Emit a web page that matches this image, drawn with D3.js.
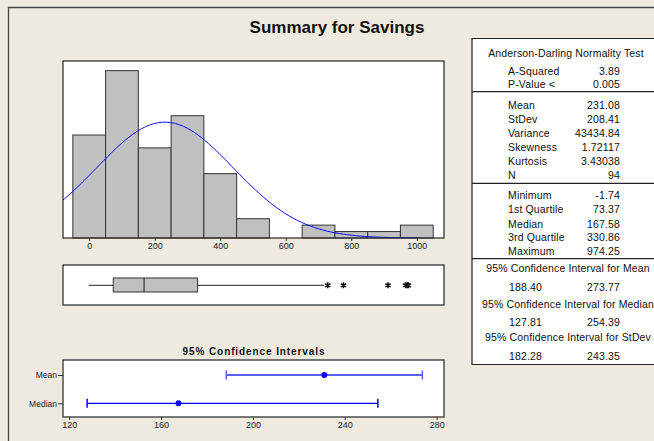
<!DOCTYPE html>
<html><head><meta charset="utf-8">
<script src="https://cdn.jsdelivr.net/npm/d3@7"></script>
<style>
html,body{margin:0;padding:0;background:#EEEAE0;}
svg{display:block;font-family:"Liberation Sans",Arial,sans-serif;}
</style></head>
<body>
<script>
// ---------- data ----------
const binCenters = [0, 100, 200, 300, 400, 500, 600, 700, 800, 900, 1000];
const binCounts  = [16, 26, 14, 19, 10, 3, 0, 2, 1, 1, 2];
const histTicks  = [0, 200, 400, 600, 800, 1000];
const sampleMean = 231.08;
const sampleSd   = 208.41;
const sampleN    = 94;
const binWidth   = 100;

const boxValues  = [-1.74, 73.37, 167.58, 330.86, 717]; // low whisker, Q1, median, Q3, high whisker
const outliers   = [728, 776, 912, 966, 971, 974.25];

const ciLabels   = ["Mean", "Median"];
const ciCenters  = [231.08, 167.58];
const ciLows     = [188.40, 127.81];
const ciHighs    = [273.77, 254.39];
const ciTicks    = [120, 160, 200, 240, 280];

const adLabels    = ["A-Squared", "P-Value <"];
const adValues    = ["3.89", "0.005"];
const descLabels  = ["Mean", "StDev", "Variance", "Skewness", "Kurtosis", "N"];
const descValues  = ["231.08", "208.41", "43434.84", "1.72117", "3.43038", "94"];
const quantLabels = ["Minimum", "1st Quartile", "Median", "3rd Quartile", "Maximum"];
const quantValues = ["-1.74", "73.37", "167.58", "330.86", "974.25"];
const ciTitles    = ["95% Confidence Interval for Mean", "95% Confidence Interval for Median", "95% Confidence Interval for StDev"];
const ciLowStr    = ["188.40", "127.81", "182.28"];
const ciHighStr   = ["273.77", "254.39", "243.35"];

// ---------- drawing ----------
const W = 654, H = 441;
const svg = d3.select("body").append("svg").attr("width", W).attr("height", H);
svg.append("rect").attr("width", W).attr("height", H).attr("fill", "#EEEAE0");
svg.append("path").attr("d", `M8.5,${H+5} V7.5 H${W+5}`).attr("fill", "none").attr("stroke", "#444").attr("stroke-width", 1.3);

svg.append("text").attr("x", 337).attr("y", 33).attr("text-anchor", "middle")
  .attr("font-size", 17).attr("font-weight", "bold").attr("fill", "#111").text("Summary for Savings");

const L = 63, R = 444;
const tickFont = "Liberation Sans, Arial, sans-serif";
// ---- histogram ----
const hTop = 61, hBot = 238;
const x = d3.scaleLinear().domain([-80, 1083]).range([L, R]);
const y = d3.scaleLinear().domain([0, 27.5]).range([hBot, hTop]);
svg.append("rect").attr("x", L).attr("y", hTop).attr("width", R - L).attr("height", hBot - hTop).attr("fill", "#fff");
svg.append("g").selectAll("rect").data(binCenters).join("rect")
  .attr("x", d => x(d - binWidth / 2)).attr("width", d => x(d + binWidth / 2) - x(d - binWidth / 2))
  .attr("y", (d, i) => y(binCounts[i])).attr("height", (d, i) => hBot - y(binCounts[i]))
  .attr("fill", "#C0C0C0").attr("stroke", "#333").attr("stroke-width", 1);
const curvePts = d3.range(-80, 1005, 4).map(v => [v, sampleN * binWidth * Math.exp(-0.5 * ((v - sampleMean) / sampleSd) ** 2) / (sampleSd * Math.sqrt(2 * Math.PI))]);
svg.append("path").datum(curvePts)
  .attr("d", d3.line().x(d => x(d[0])).y(d => y(d[1])))
  .attr("fill", "none").attr("stroke", "#0000FF").attr("stroke-width", 1);
svg.append("rect").attr("x", L).attr("y", hTop).attr("width", R - L).attr("height", hBot - hTop)
  .attr("fill", "none").attr("stroke", "#333").attr("stroke-width", 1.3);
const hx = svg.append("g").attr("transform", `translate(0,${hBot})`)
  .call(d3.axisBottom(x).tickValues(histTicks).tickSize(3).tickPadding(2).tickFormat(d3.format("d")));
hx.select(".domain").remove();
hx.selectAll("text").attr("font-size", 9).attr("fill", "#222").attr("font-family", tickFont);
hx.selectAll("line").attr("stroke", "#333");

// ---- box plot ----
const bTop = 265, bBot = 305, bMid = 285.3;
svg.append("rect").attr("x", L).attr("y", bTop).attr("width", R - L).attr("height", bBot - bTop)
  .attr("fill", "#fff").attr("stroke", "#333").attr("stroke-width", 1.3);
const g = svg.append("g");
g.append("line").attr("x1", x(boxValues[0])).attr("x2", x(boxValues[1])).attr("y1", bMid).attr("y2", bMid).attr("stroke", "#222");
g.append("line").attr("x1", x(boxValues[3])).attr("x2", x(boxValues[4])).attr("y1", bMid).attr("y2", bMid).attr("stroke", "#222");
g.append("rect").attr("x", x(boxValues[1])).attr("width", x(boxValues[3]) - x(boxValues[1]))
  .attr("y", 278).attr("height", 14).attr("fill", "#C0C0C0").attr("stroke", "#333").attr("stroke-width", 1);
g.append("line").attr("x1", x(boxValues[2])).attr("x2", x(boxValues[2])).attr("y1", 278).attr("y2", 292).attr("stroke", "#333").attr("stroke-width", 1.2);
g.selectAll("path.out").data(outliers).join("path").attr("class", "out")
  .attr("transform", d => `translate(${x(d)},${bMid})`)
  .attr("d", d3.symbol().type(d3.symbolAsterisk).size(26))
  .attr("fill", "none").attr("stroke", "#111").attr("stroke-width", 1.6);

// ---- CI panel ----
const cTop = 360, cBot = 417;
const cx = d3.scaleLinear().domain([117.3, 283.2]).range([L, R]);
const cy = d3.scalePoint().domain(ciLabels).range([375, 403.3]);
const ciColors = ["#5C5CFF", "#0000FF"], ciWidths = [2, 1.3];
svg.append("text").attr("x", 254).attr("y", 354.5).attr("text-anchor", "middle")
  .attr("font-size", 10).attr("font-weight", "bold").attr("letter-spacing", 0.9).attr("fill", "#111")
  .text("95% Confidence Intervals");
svg.append("rect").attr("x", L).attr("y", cTop).attr("width", R - L).attr("height", cBot - cTop)
  .attr("fill", "#fff").attr("stroke", "#333").attr("stroke-width", 1.3);
const cg = svg.append("g");
ciLabels.forEach((lab, i) => {
  const yy = cy(lab);
  cg.append("line").attr("x1", cx(ciLows[i])).attr("x2", cx(ciHighs[i])).attr("y1", yy).attr("y2", yy)
    .attr("stroke", ciColors[i]).attr("stroke-width", ciWidths[i]);
  [ciLows[i], ciHighs[i]].forEach(v => cg.append("line").attr("x1", cx(v)).attr("x2", cx(v))
    .attr("y1", yy - 4.5).attr("y2", yy + 4.5).attr("stroke", ciColors[i]).attr("stroke-width", 1.5));
  cg.append("circle").attr("cx", cx(ciCenters[i])).attr("cy", yy).attr("r", 3).attr("fill", "#0000FF");
});
const cyAx = svg.append("g").attr("transform", `translate(${L},0)`)
  .call(d3.axisLeft(cy).tickSize(5).tickPadding(1));
cyAx.select(".domain").remove();
cyAx.selectAll("text").attr("font-size", 8.5).attr("fill", "#222").attr("font-family", tickFont);
cyAx.selectAll("line").attr("stroke", "#333");
const cxAx = svg.append("g").attr("transform", `translate(0,${cBot})`)
  .call(d3.axisBottom(cx).tickValues(ciTicks).tickSize(3).tickPadding(2));
cxAx.select(".domain").remove();
cxAx.selectAll("text").attr("font-size", 9).attr("fill", "#222").attr("font-family", tickFont);
cxAx.selectAll("line").attr("stroke", "#333");

// ---- stats table ----
const tL = 472, tTop = 38.5, tBot = 364.5;
svg.append("path").attr("d", `M${W + 5},${tTop} H${tL} V${tBot} H${W + 5}`)
  .attr("fill", "#fff").attr("stroke", "#222").attr("stroke-width", 1.2);
[91.7, 183.3, 258.7].forEach(yy => svg.append("line").attr("x1", tL).attr("x2", W).attr("y1", yy).attr("y2", yy)
  .attr("stroke", "#222").attr("stroke-width", 1.2));
const tg = svg.append("g").attr("font-size", 10.5).attr("letter-spacing", 0.15).attr("fill", "#111");
const txt = (xx, yy, s, anchor) => tg.append("text").attr("x", xx).attr("y", yy + 3.7).attr("text-anchor", anchor).text(s);
txt(566, 53.3, "Anderson-Darling Normality Test", "middle");
const adY = [71, 84.3];
adLabels.forEach((l, i) => { txt(508, adY[i], l, "start"); txt(620, adY[i], adValues[i], "end"); });
const descY = [105.7, 119.2, 133.1, 147.1, 161.1, 175];
descLabels.forEach((l, i) => { txt(508, descY[i], l, "start"); txt(620, descY[i], descValues[i], "end"); });
const quantY = [195.7, 209.6, 223.8, 237.6, 250.8];
quantLabels.forEach((l, i) => { txt(508, quantY[i], l, "start"); txt(620, quantY[i], quantValues[i], "end"); });
const ciTitleY = [268.7, 304, 337.7], ciValY = [287.7, 322.3, 356.3];
ciTitles.forEach((t, i) => {
  txt(568, ciTitleY[i], t, "middle");
  txt(509, ciValY[i], ciLowStr[i], "start");
  txt(620, ciValY[i], ciHighStr[i], "end");
});
</script>
</body></html>
